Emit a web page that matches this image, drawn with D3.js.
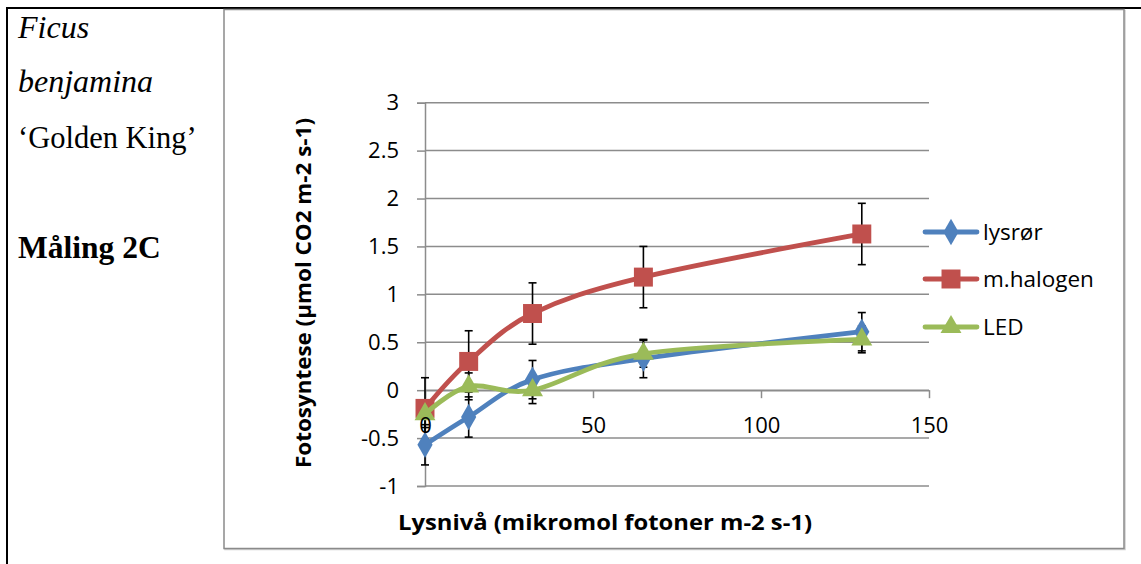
<!DOCTYPE html>
<html>
<head>
<meta charset="utf-8">
<script src="https://cdn.jsdelivr.net/npm/d3@7/dist/d3.min.js"></script>
<style>
  html, body { margin: 0; padding: 0; background: #fff; }
  svg { display: block; }
</style>
</head>
<body>
<svg id="chart" width="1141" height="564"></svg>
<script>
// Light levels (µmol photons m-2 s-1)
const lightLevels = [0, 13, 32, 65, 130];

// Photosynthesis per lamp type (µmol CO2 m-2 s-1)
const seriesNames = ["lysrør", "m.halogen", "LED"];
const lysror   = [-0.57, -0.28, 0.11, 0.33, 0.61];
const halogen  = [-0.19, 0.30, 0.80, 1.18, 1.63];
const led      = [-0.25, 0.04, 0.00, 0.38, 0.53];

// Error bar half-widths per series
const errLysror  = [0.21, 0.21, 0.20, 0.20, 0.20];
const errHalogen = [0.32, 0.32, 0.32, 0.32, 0.32];
const errLed     = [0.14, 0.14, 0.14, 0.14, 0.14];

const yTicks = [-1, -0.5, 0, 0.5, 1, 1.5, 2, 2.5, 3];
const xTicks = [0, 50, 100, 150];

const colors = ["#4F81BD", "#C0504D", "#9BBB59"];
const markers = [d3.symbolDiamond, d3.symbolSquare, d3.symbolTriangle];

const series = [
  { name: seriesNames[0], values: lysror,  err: errLysror,  color: colors[0], marker: markers[0], size: 200 },
  { name: seriesNames[1], values: halogen, err: errHalogen, color: colors[1], marker: markers[1], size: 360 },
  { name: seriesNames[2], values: led,     err: errLed,     color: colors[2], marker: markers[2], size: 190 }
];

const svg = d3.select("#chart");

// Page frame: table borders
svg.append("line").attr("x1", 6).attr("x2", 1141).attr("y1", 8).attr("y2", 8)
  .attr("stroke", "#000").attr("stroke-width", 2);
svg.append("line").attr("x1", 7).attr("x2", 7).attr("y1", 7).attr("y2", 564)
  .attr("stroke", "#000").attr("stroke-width", 2);

// Caption text in the left cell
const serif = "'Liberation Serif', 'Times New Roman', serif";
const caption = svg.append("g").attr("font-family", serif).attr("fill", "#000");
caption.append("text").attr("x", 18).attr("y", 38).attr("font-size", 32).attr("font-style", "italic").text("Ficus");
caption.append("text").attr("x", 18).attr("y", 92).attr("font-size", 32).attr("font-style", "italic").text("benjamina");
caption.append("text").attr("x", 18).attr("y", 148).attr("font-size", 30.5).text("\u2018Golden King\u2019");
caption.append("text").attr("x", 18).attr("y", 258).attr("font-size", 31.5).attr("font-weight", "bold").text("Måling 2C");

// Chart frame
svg.append("rect").attr("x", 225).attr("y", 10.5).attr("width", 900).attr("height", 539)
  .attr("fill", "none").attr("stroke", "#d0d0d0").attr("stroke-width", 1.5);
svg.append("rect").attr("x", 224).attr("y", 9.5).attr("width", 900).attr("height", 539)
  .attr("fill", "#fff").attr("stroke", "#8a8a8a").attr("stroke-width", 1.5);

const x = d3.scaleLinear().domain([0, 150]).range([425, 929]);
const y = d3.scaleLinear().domain([-1, 3]).range([486, 102.7]);

const font = "'Open Sans', Lato, sans-serif";
const gridColor = "#8c8c8c";
const plainNumber = d => String(d);

// Horizontal gridlines
svg.append("g").selectAll("line").data(yTicks).join("line")
  .attr("x1", x(0)).attr("x2", x(150))
  .attr("y1", d => y(d)).attr("y2", d => y(d))
  .attr("stroke", gridColor).attr("stroke-width", 1.5);

// Y axis
const yAxis = svg.append("g").attr("transform", `translate(${x(0)},0)`)
  .call(d3.axisLeft(y).tickValues(yTicks).tickSize(8).tickPadding(18).tickFormat(plainNumber));
yAxis.select(".domain").attr("stroke", gridColor).attr("stroke-width", 1.5);
yAxis.selectAll(".tick line").attr("stroke", gridColor).attr("stroke-width", 1.5);
yAxis.selectAll(".tick text").attr("font-family", font).attr("font-size", 22).attr("fill", "#000");

// X axis line and ticks through y = 0 (labels are added above the series)
const xAxis = svg.append("g").attr("transform", `translate(0,${y(0)})`)
  .call(d3.axisBottom(x).tickValues(xTicks).tickSize(8).tickSizeOuter(0).tickFormat(""));
xAxis.select(".domain").attr("stroke", gridColor).attr("stroke-width", 1.5);
xAxis.selectAll(".tick line").attr("stroke", gridColor).attr("stroke-width", 1.5);

// Axis titles
svg.append("text")
  .attr("transform", `translate(311,293) rotate(-90)`)
  .attr("text-anchor", "middle")
  .attr("font-family", font).attr("font-size", 22).attr("font-weight", "bold")
  .attr("textLength", 350).attr("lengthAdjust", "spacingAndGlyphs")
  .text("Fotosyntese (µmol CO2 m-2 s-1)");
svg.append("text")
  .attr("x", 605).attr("y", 530)
  .attr("text-anchor", "middle")
  .attr("font-family", font).attr("font-size", 22).attr("font-weight", "bold")
  .attr("textLength", 414).attr("lengthAdjust", "spacingAndGlyphs")
  .text("Lysnivå (mikromol fotoner m-2 s-1)");

// Error bars
const capHalf = 4;
series.forEach(s => {
  const g = svg.append("g").attr("stroke", "#000").attr("stroke-width", 1.6);
  s.values.forEach((v, i) => {
    const cx = x(lightLevels[i]);
    const top = y(v + s.err[i]), bot = y(v - s.err[i]);
    g.append("line").attr("x1", cx).attr("x2", cx).attr("y1", top).attr("y2", bot);
    g.append("line").attr("x1", cx - capHalf).attr("x2", cx + capHalf).attr("y1", top).attr("y2", top);
    g.append("line").attr("x1", cx - capHalf).attr("x2", cx + capHalf).attr("y1", bot).attr("y2", bot);
  });
});

// Smoothed series lines with markers
const line = d3.line()
  .x((d, i) => x(lightLevels[i]))
  .y(d => y(d))
  .curve(d3.curveCatmullRom.alpha(0));

series.forEach(s => {
  svg.append("path").datum(s.values)
    .attr("d", line)
    .attr("fill", "none").attr("stroke", s.color).attr("stroke-width", 4.8)
    .attr("stroke-linejoin", "round").attr("stroke-linecap", "round");
  svg.append("g").selectAll("path").data(s.values).join("path")
    .attr("transform", (d, i) => `translate(${x(lightLevels[i])},${y(d)})`)
    .attr("d", d3.symbol().type(s.marker).size(s.size))
    .attr("fill", s.color);
});

// X tick labels, drawn on top of the series
const xLabels = svg.append("g").attr("transform", `translate(0,${y(0)})`)
  .call(d3.axisBottom(x).tickValues(xTicks).tickSize(8).tickPadding(19).tickFormat(plainNumber));
xLabels.select(".domain").remove();
xLabels.selectAll(".tick line").remove();
xLabels.selectAll(".tick text").attr("font-family", font).attr("font-size", 22).attr("fill", "#000");

// Legend
const legend = svg.append("g");
const legendY = [232, 279, 327];
series.forEach((s, i) => {
  const row = legend.append("g").attr("transform", `translate(0,${legendY[i]})`);
  row.append("line").attr("x1", 925).attr("x2", 977).attr("y1", 0).attr("y2", 0)
    .attr("stroke", s.color).attr("stroke-width", 4.8).attr("stroke-linecap", "round");
  row.append("path").attr("transform", "translate(951,0)")
    .attr("d", d3.symbol().type(s.marker).size(s.size)).attr("fill", s.color);
  row.append("text").attr("x", 983).attr("y", 0).attr("dy", "0.35em")
    .attr("font-family", font).attr("font-size", 22.5).attr("fill", "#000")
    .text(s.name);
});
</script>
</body>
</html>
